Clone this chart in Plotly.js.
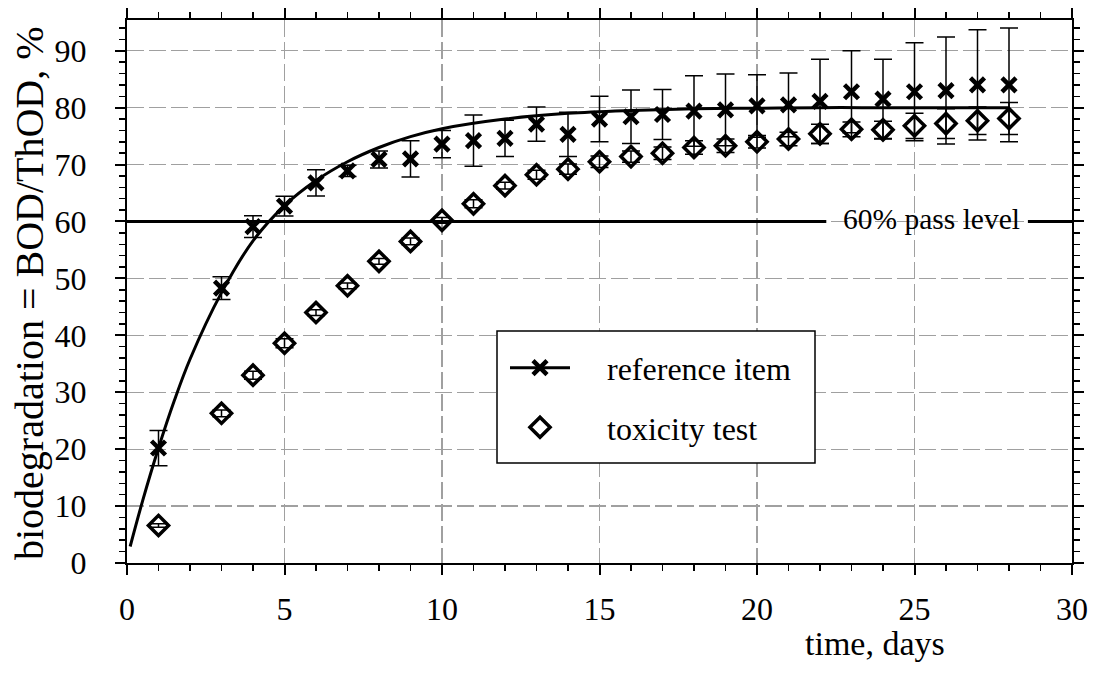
<!DOCTYPE html>
<html>
<head>
<meta charset="utf-8">
<script src="https://cdn.plot.ly/plotly-3.0.1.min.js"></script>
<style>html,body{margin:0;padding:0;background:#fff;}#chart{width:1096px;height:681px;}</style>
</head>
<body>
<div id="chart"></div>
<script>
// ---- data ----
const days = [1,3,4,5,6,7,8,9,10,11,12,13,14,15,16,17,18,19,20,21,22,23,24,25,26,27,28];
const referenceItem = [20.2,48.3,59.1,62.7,66.8,68.9,70.9,71.0,73.6,74.2,74.6,77.1,75.3,78.0,78.4,78.8,79.4,79.6,80.3,80.5,81.1,82.8,81.5,82.8,83.0,84.0,84.0];
const referenceErr  = [3.1,2.0,1.9,1.75,2.3,1.0,1.5,3.2,2.4,4.5,3.2,3.0,3.9,4.0,4.7,4.4,6.2,6.3,5.5,5.6,7.4,7.2,7.0,8.6,9.4,9.7,10.0];
const toxicityTest  = [6.6,26.3,33.0,38.6,44.0,48.7,53.0,56.5,60.2,63.1,66.3,68.2,69.2,70.5,71.4,72.0,73.0,73.3,74.0,74.5,75.4,76.2,76.1,76.8,77.2,77.7,78.1];
const toxicityErr   = [0.3,0.6,0.7,0.8,0.5,0.5,0.5,0.6,0.5,0.7,0.6,0.8,0.9,1.0,1.0,1.1,1.2,1.2,1.1,1.2,1.7,1.3,1.5,2.2,2.6,2.4,2.8];
// fitted curve of the reference item
const fitDays = [0.1,0.5,1,1.5,2,3,4,5,6,7,8,9,10,12,14,16,18,20,22,24,26,28];
const fitValues = [2.9,11.0,20.2,28.5,35.8,47.5,56.6,62.8,67.2,70.5,73.0,74.9,76.3,78.0,79.0,79.5,79.8,79.9,80.0,80.0,80.0,80.0];
const passLevel = 60;
const passLabel = '60% pass level';
const xTickVals = [0,5,10,15,20,25,30];
const yTickVals = [0,10,20,30,40,50,60,70,80,90];

const FONT = 'Liberation Serif, Times New Roman, serif';
const NB = '\u00a0\u00a0\u00a0\u00a0';

const traces = [
  { x: fitDays, y: fitValues, mode: 'lines', type: 'scatter', line: {color: '#000', width: 3, shape: 'spline', smoothing: 1},
    showlegend: false, hoverinfo: 'skip' },
  { x: days, y: referenceItem, mode: 'markers', type: 'scatter', showlegend: false,
    marker: {symbol: 'x-thin', size: 14, color: '#000', line: {color: '#000', width: 4.5}},
    error_y: {type: 'data', array: referenceErr, visible: true, color: '#000', thickness: 1.5, width: 9} },
  { x: [null], y: [null], mode: 'lines+markers', type: 'scatter', name: NB + 'reference item', legendgroup: 'a',
    line: {color: '#000', width: 3},
    marker: {symbol: 'x-thin', size: 14, color: '#000', line: {color: '#000', width: 4.5}} },
  { x: days, y: toxicityTest, mode: 'markers', type: 'scatter', name: NB + 'toxicity test', legendgroup: 'b',
    marker: {symbol: 'diamond-open', size: 15.5, color: '#000', line: {color: '#000', width: 3.5}},
    error_y: {type: 'data', array: toxicityErr, visible: true, color: '#000', thickness: 1.5, width: 9} }
];

const axisCommon = {
  showline: true, linecolor: '#000', linewidth: 2, mirror: 'ticks',
  ticks: 'outside', ticklen: 10, tickwidth: 2, tickcolor: '#000',
  tickfont: {family: FONT, size: 32, color: '#000'},
  showgrid: true, gridcolor: '#a0a0a0', gridwidth: 1.3, griddash: '17px,5px',
  zeroline: false, fixedrange: true
};

const layout = {
  width: 1096, height: 681,
  margin: {l: 127, r: 24, t: 20, b: 118, pad: 0},
  paper_bgcolor: '#fff', plot_bgcolor: '#fff',
  font: {family: FONT, color: '#000'},
  xaxis: Object.assign({}, axisCommon, {
    range: [0, 30], tickmode: 'array', tickvals: xTickVals, ticktext: xTickVals.map(String),
    ticklabelstandoff: 7,
    minor: {dtick: 1, tick0: 0, ticks: 'outside', ticklen: 6, tickwidth: 1.5, tickcolor: '#000', showgrid: false}
  }),
  yaxis: Object.assign({}, axisCommon, {
    range: [0, 95.4], tickmode: 'array', tickvals: yTickVals, ticktext: yTickVals.map(String),
    ticklabelstandoff: 22,
    minor: {dtick: 2, tick0: 0, ticks: 'outside', ticklen: 6, tickwidth: 1.5, tickcolor: '#000', showgrid: false}
  }),
  showlegend: true,
  legend: {
    x: 0.40, y: 0.41, xanchor: 'left', yanchor: 'top',
    bgcolor: 'rgba(0,0,0,0)', borderwidth: 0,
    font: {family: FONT, size: 32, color: '#000'},
    traceorder: 'grouped', tracegroupgap: 15, itemwidth: 60
  },
  shapes: [
    {type: 'rect', xref: 'paper', yref: 'paper', layer: 'above',
     x0: (497-127)/945, x1: (815-127)/945, y0: (563-463)/543, y1: (563-331)/543,
     fillcolor: '#fff', line: {color: '#000', width: 1.5}},
    {type: 'line', xref: 'x', yref: 'y', layer: 'above', x0: 0, x1: 22.2, y0: passLevel, y1: passLevel,
     line: {color: '#000', width: 3}},
    {type: 'line', xref: 'x', yref: 'y', layer: 'above', x0: 28.6, x1: 30, y0: passLevel, y1: passLevel,
     line: {color: '#000', width: 3}}
  ],
  annotations: [
    {text: passLabel, xref: 'x', yref: 'y', x: 25.55, y: passLevel, xanchor: 'center', yanchor: 'middle',
     showarrow: false, font: {family: FONT, size: 29.5, color: '#000'}, yshift: 2},
    {text: 'biodegradation = BOD/ThOD, %', xref: 'paper', yref: 'paper', x: (30-127)/945, y: (563-293)/543,
     xanchor: 'center', yanchor: 'middle', textangle: -90, showarrow: false,
     font: {family: FONT, size: 40, color: '#000'}},
    {text: 'time, days', xref: 'paper', yref: 'paper', x: (947-127)/945, y: (563-643)/543,
     xanchor: 'right', yanchor: 'middle', showarrow: false,
     font: {family: FONT, size: 34, color: '#000'}}
  ]
};

Plotly.newPlot('chart', traces, layout, {displayModeBar: false, staticPlot: true});
</script>
</body>
</html>
